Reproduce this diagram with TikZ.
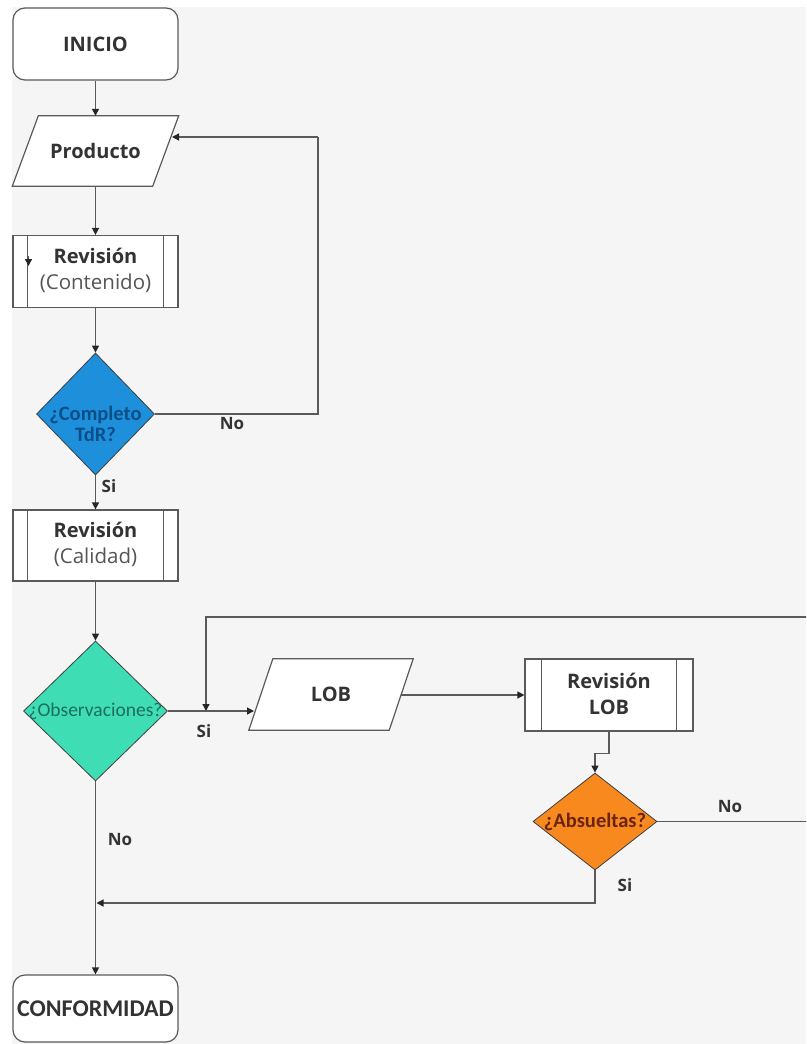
\documentclass[tikz,border=0pt]{standalone}
\usepackage{fontspec}
\setmainfont{Open Sans}
\newfontfamily\cbfont{Carlito}
\usetikzlibrary{arrows.meta,shapes.geometric,calc}
\definecolor{bgc}{HTML}{F5F5F5}
\definecolor{lnc}{HTML}{5A5A5A}
\definecolor{txc}{HTML}{333333}
\definecolor{subc}{HTML}{555555}
\definecolor{bluec}{HTML}{1E8FDA}
\definecolor{bluetx}{HTML}{0C4F88}
\definecolor{tealc}{HTML}{3FDDB4}
\definecolor{tealtx}{HTML}{1C6E5E}
\definecolor{orangec}{HTML}{F7891F}
\definecolor{orangetx}{HTML}{6A2410}
\begin{document}
\begin{tikzpicture}[x=1pt,y=-1pt,
  conn/.style={draw=lnc,line width=1.3pt},
  arr/.style={conn,-{Triangle[length=7pt,width=7pt,color=black!85]}},
  termbox/.style={draw=lnc,line width=1.2pt,fill=white,rounded corners=12pt,minimum width=165pt,inner sep=0pt,text=txc},
  subbox/.style={draw=lnc,line width=1.2pt,fill=white,minimum width=165pt,minimum height=72pt,inner sep=0pt,text=txc,align=center},
  parabox/.style={inner sep=0pt,minimum height=70pt},
  paraline/.style={draw=lnc,line width=1.2pt,fill=white},
  dec/.style={diamond,draw=lnc!70!black,line width=0.8pt,inner sep=0pt},
  bigtxt/.style={font=\bfseries\fontsize{20}{24}\selectfont,text=txc,inner sep=0pt},
  subtxt/.style={font=\fontsize{20.5}{24}\selectfont,text=subc,inner sep=0pt},
  lbl/.style={font=\bfseries\fontsize{17}{18}\selectfont,text=txc,inner sep=0pt}
]
\clip (0,0) rectangle (806,1044);
\fill[white] (0,0) rectangle (806,1044);
\fill[bgc] (12,7) rectangle (806,1044);

% INICIO
\node[termbox,minimum height=72pt,bigtxt] (ini) at (95.5,44) {INICIO};

% Producto
\node[parabox,minimum width=166pt] (prod) at (95.5,151) {};
\draw[paraline] ([xshift=26pt]prod.north west) -- (prod.north east) -- ([xshift=-26pt]prod.south east) -- (prod.south west) -- cycle;
\node[bigtxt] (prodt) at (prod.center) {Producto};

% Revision contenido
\node[subbox] (rev1) at (95.5,271.5) {};
\draw[conn,line width=1.1pt] ([xshift=15pt]rev1.north west) -- ([xshift=15pt]rev1.south west);
\draw[conn,line width=1.1pt] ([xshift=-15pt]rev1.north east) -- ([xshift=-15pt]rev1.south east);
\node[bigtxt] (rev1a) at (95.5,256) {Revisión};
\node[subtxt] (rev1b) at (95.5,283) {(Contenido)};
\coordinate (art) at (28.5,266);
\draw[arr] (28.5,256) -- (art);

% Decision 1
\node[dec,fill=bluec,minimum width=118pt,minimum height=122pt] (d1) at (95.5,414) {};
\node[align=center,inner sep=0pt,text=bluetx,font=\cbfont\bfseries\fontsize{20.5}{21}\selectfont] (d1t) at (95.5,424) {¿Completo\\TdR?};

% Revision calidad
\node[subbox,minimum height=71pt] (rev2) at (95.5,545.5) {};
\draw[conn,line width=1.1pt] ([xshift=15pt]rev2.north west) -- ([xshift=15pt]rev2.south west);
\draw[conn,line width=1.1pt] ([xshift=-15pt]rev2.north east) -- ([xshift=-15pt]rev2.south east);
\node[bigtxt] (rev2a) at (95.5,530) {Revisión};
\node[subtxt] (rev2b) at (95.5,557) {(Calidad)};

% Decision 2
\node[dec,fill=tealc,minimum width=144pt,minimum height=140pt] (d2) at (95.5,711) {};
\node[inner sep=0pt,text=tealtx,font=\cbfont\fontsize{19.5}{21}\selectfont] (d2t) at (95.5,711) {¿Observaciones?};

% LOB
\node[parabox,minimum width=164pt,minimum height=71pt] (lob) at (331,694.5) {};
\draw[paraline] ([xshift=24pt]lob.north west) -- (lob.north east) -- ([xshift=-24pt]lob.south east) -- (lob.south west) -- cycle;
\node[bigtxt] (lobt) at (lob.center) {LOB};

% Revision LOB
\node[subbox,minimum width=168pt] (rev3) at (609,695) {};
\draw[conn,line width=1.1pt] ([xshift=17pt]rev3.north west) -- ([xshift=17pt]rev3.south west);
\draw[conn,line width=1.1pt] ([xshift=-17pt]rev3.north east) -- ([xshift=-17pt]rev3.south east);
\node[bigtxt] (rev3a) at (609,681) {Revisión};
\node[bigtxt] (rev3b) at (609,707) {LOB};

% Decision 3
\node[dec,fill=orangec,minimum width=124pt,minimum height=97pt] (d3) at (595,821.5) {};
\node[inner sep=0pt,text=orangetx,font=\cbfont\bfseries\fontsize{20.5}{22}\selectfont] (d3t) at (595,822) {¿Absueltas?};

% CONFORMIDAD
\node[termbox,minimum height=67pt,font=\cbfont\bfseries\fontsize{24}{26}\selectfont] (conf) at (95.5,1008.5) {\raisebox{-3pt}{CONFORMIDAD}};

% coordinates
\coordinate (prodin) at (172,137);
\coordinate (loopA) at (318,137);
\coordinate (lobin) at (254,711);
\coordinate (lobout) at (401,695);
\coordinate (loopR) at (812,617);
\coordinate (loopL) at (206,711);
\coordinate (joinpt) at (96.5,903);

% connectors
\draw[arr] (ini.south) -- (prod.north);
\draw[arr] (prod.south) -- (rev1.north);
\draw[arr] (rev1.south) -- (d1.north);
\draw[conn] (d1.east) -| (loopA);
\draw[arr] (loopA) -- (prodin);
\draw[arr] (d1.south) -- (rev2.north);
\draw[arr] (rev2.south) -- (d2.north);
\draw[arr] (d2.east) -- (lobin);
\draw[arr] (lobout) -- (rev3.west);
\draw[arr] (rev3.south) -- ++(0,22) -| (d3.north);
\draw[arr] (d3.east) -| (loopR) -| (loopL);
\draw[arr] (d3.south) |- (joinpt);
\draw[arr] (d2.south) -- (conf.north);

% labels
\node[lbl] (lno1) at (232,424) {No};
\node[lbl] (lsi1) at (109,486) {Si};
\node[lbl] (lsi2) at (204,731) {Si};
\node[lbl] (lno2) at (120,840) {No};
\node[lbl] (lno3) at (730,807) {No};
\node[lbl] (lsi3) at (625,885) {Si};
\end{tikzpicture}
\end{document}
